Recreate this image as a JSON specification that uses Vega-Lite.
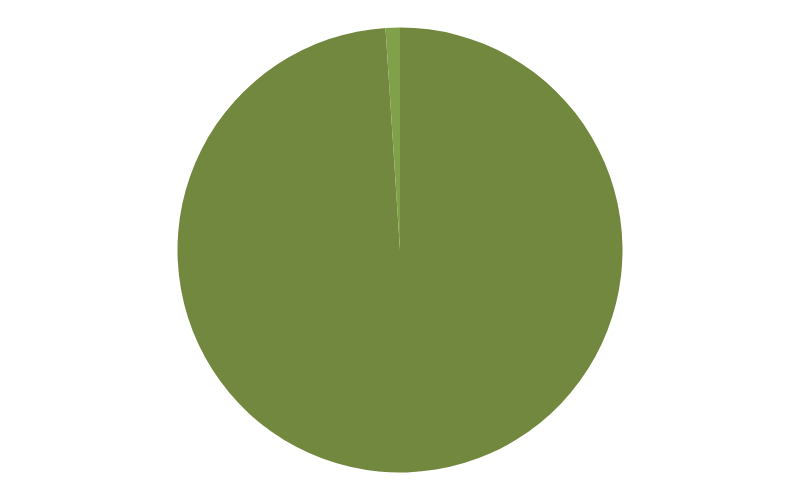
{
  "$schema": "https://vega.github.io/schema/vega-lite/v6.json",
  "width": 800,
  "height": 500,
  "autosize": {"type": "fit", "contains": "padding"},
  "padding": 0,
  "background": "white",
  "view": {"stroke": null},
  "data": {"values": [
    {"category": "A", "value": 98.96, "order": 1},
    {"category": "B", "value": 1.04, "order": 2}
  ]},
  "mark": {"type": "arc", "outerRadius": 222.5},
  "encoding": {
    "theta": {"field": "value", "type": "quantitative", "stack": true},
    "order": {"field": "order", "type": "quantitative"},
    "color": {
      "field": "category",
      "type": "nominal",
      "scale": {"domain": ["A", "B"], "range": ["#71883E", "#80A14A"]},
      "legend": null
    }
  }
}
